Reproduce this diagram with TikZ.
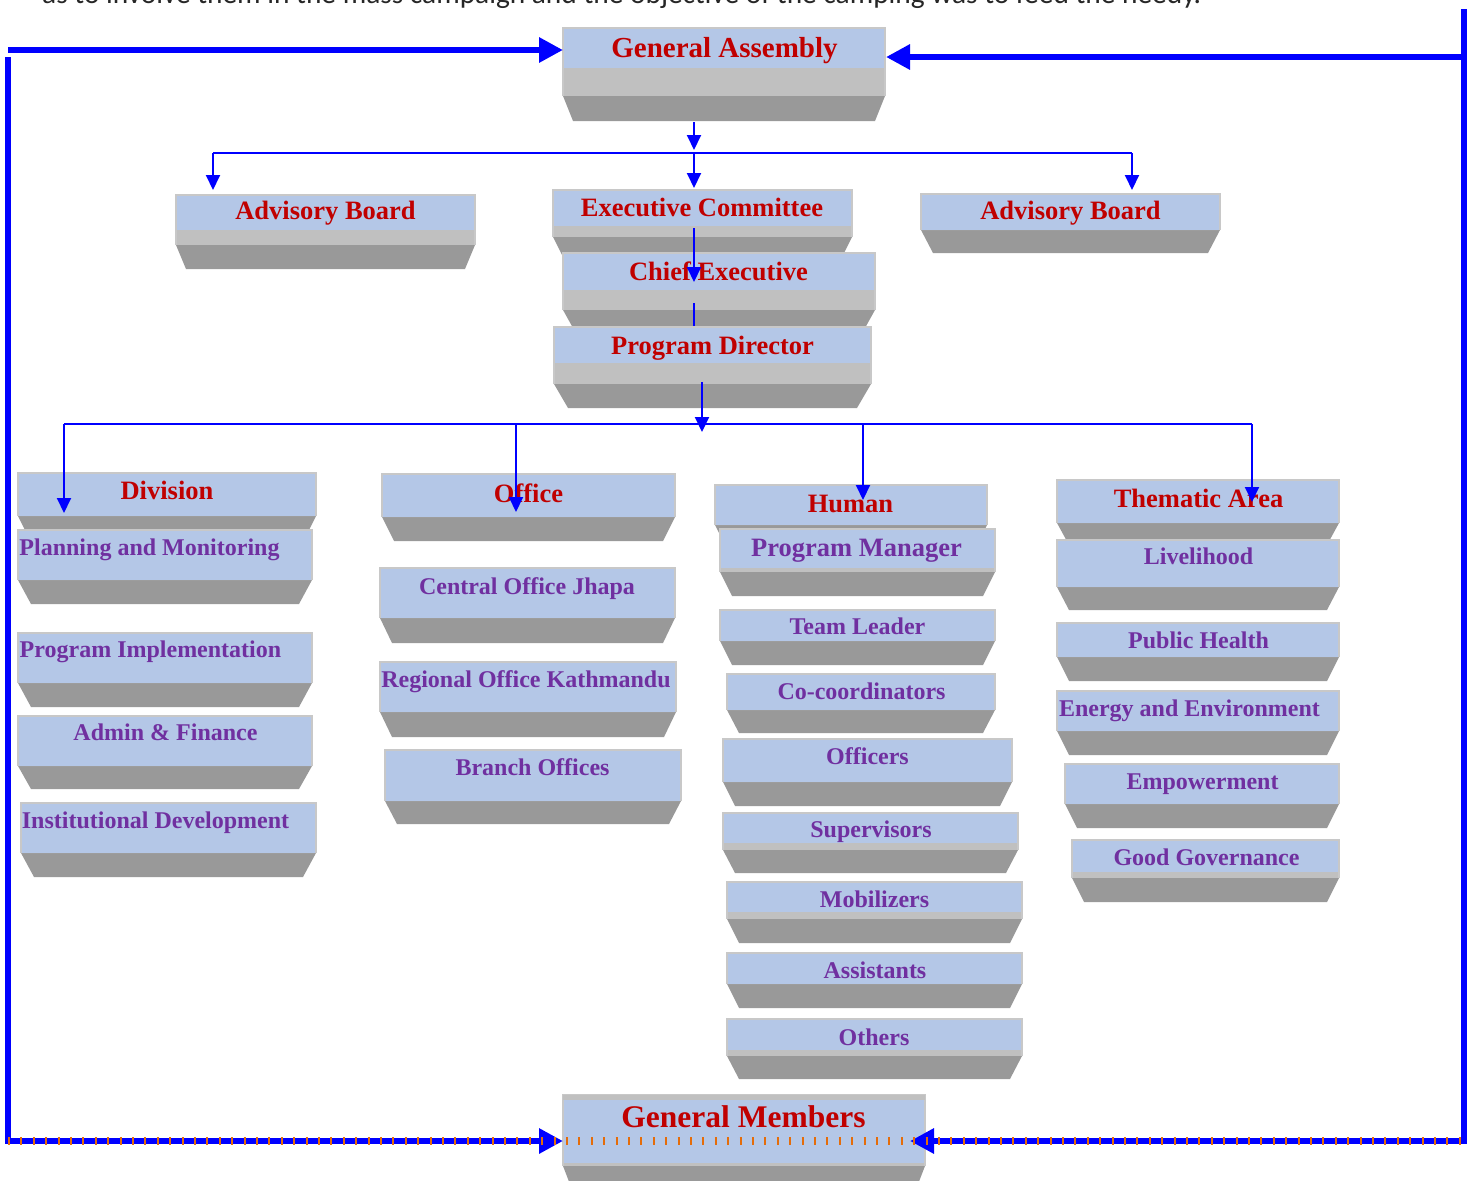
\documentclass[tikz,border=0pt]{standalone}
\usepackage{fontspec}
\setmainfont{Liberation Serif}
\newfontfamily\bodyfont{Carlito}
\usetikzlibrary{arrows.meta,calc}
\definecolor{faceb}{HTML}{B4C7E7}
\definecolor{bandg}{HTML}{C0C0C0}
\definecolor{darkg}{HTML}{999999}
\definecolor{edgeg}{HTML}{C8C8C8}
\definecolor{redt}{HTML}{C00000}
\definecolor{purt}{HTML}{7030A0}
\definecolor{lineb}{HTML}{0000FF}
\definecolor{dashor}{HTML}{E46C0A}
% #1 name, #2 x1, #3 x2, #4 top, #5 face bottom, #6 band bottom, #7 bottom, #8 inset
\newcommand\obox[8]{%
 \fill[darkg] (#2,#6) -- (#3,#6) -- ({#3-#8},#7) -- ({#2+#8},#7) -- cycle;
 \fill[bandg] (#2,#5) rectangle (#3,#6);
 \fill[faceb] (#2,#4) rectangle (#3,#5);
 \draw[edgeg, line width=1.5pt] (#2,#6) -- (#2,#4) -- (#3,#4) -- (#3,#6);
 \coordinate (#1) at ({(#2+#3)/2},#4);
}
\tikzset{
 redlab/.style={text=redt, font=\bfseries\fontsize{26.5}{30}\selectfont, inner sep=0pt, anchor=base},
 purlab/.style={text=purt, font=\bfseries\fontsize{24}{28}\selectfont, inner sep=0pt, anchor=base},
 conn/.style={draw=lineb, line width=2pt, -{Triangle[length=15pt,width=14pt]}},
 connplain/.style={draw=lineb, line width=2pt},
 framearrow/.style={draw=lineb, line width=6pt, -{Triangle[length=24pt,width=24pt]}},
}
\begin{document}
\begin{tikzpicture}[x=1pt,y=-1pt]
\clip (0,0) rectangle (1476,1181);
\fill[white] (0,0) rectangle (1476,1181);

\node[anchor=base west, inner sep=0pt, font=\bodyfont\fontsize{29.4}{32}\selectfont, text=black!85] (toptext) at (42,3) {as to involve them in the mass campaign and the objective of the camping was to feed the needy.};

% boxes
\obox{ga}{563}{885}{28}{68}{96}{121}{10}
\obox{advl}{176}{475}{195}{230}{245}{269}{10}
\obox{exec}{553}{852}{190}{226}{237}{261}{12}
\obox{advr}{921}{1220}{194}{230}{230}{253}{12}
\obox{chief}{563}{875}{253}{290}{310}{328}{10}
\obox{pd}{554}{871}{327}{363}{384}{408}{14}
\obox{div}{18}{316}{473}{516}{516}{540}{12}
\obox{plan}{18}{312}{530}{580}{580}{604}{13}
\obox{impl}{18}{312}{633}{683}{683}{707}{13}
\obox{admin}{18}{312}{716}{766}{766}{789}{13}
\obox{inst}{21}{316}{803}{853}{853}{877}{13}
\obox{off}{382}{675}{474}{517}{517}{541}{12}
\obox{central}{380}{675}{568}{618}{618}{643}{12}
\obox{regional}{380}{676}{662}{712}{712}{737}{12}
\obox{branch}{385}{681}{750}{801}{801}{824}{12}
\obox{hum}{715}{987}{485}{525}{525}{545}{10}
\obox{pm}{720}{995}{529}{568}{572}{596}{12}
\obox{team}{720}{995}{610}{641}{641}{665}{12}
\obox{coco}{727}{995}{674}{710}{710}{733}{12}
\obox{officers}{723}{1012}{739}{782}{782}{806}{12}
\obox{sup}{723}{1018}{813}{843}{850}{873}{12}
\obox{mob}{727}{1022}{882}{912}{919}{943}{12}
\obox{assist}{727}{1022}{953}{984}{984}{1008}{12}
\obox{others}{727}{1022}{1019}{1050}{1056}{1079}{12}
\obox{them}{1057}{1339}{480}{523}{523}{545}{12}
\obox{live}{1057}{1339}{540}{587}{587}{610}{12}
\obox{health}{1057}{1339}{623}{657}{657}{681}{12}
\obox{energy}{1057}{1339}{691}{731}{731}{755}{12}
\obox{empow}{1065}{1339}{764}{804}{804}{828}{12}
\obox{good}{1072}{1339}{840}{872}{878}{902}{12}
\obox{gm}{563}{925}{1095}{1163}{1166}{1192}{10}
\fill[bandg] (563,1095) rectangle (925,1100);

% labels
\node[redlab, font=\bfseries\fontsize{29}{32}\selectfont] (gaT) at (724.5,57) {General Assembly};
\node[redlab] (advlT) at (325.5,219) {Advisory Board};
\node[redlab] (advrT) at (1070.5,219) {Advisory Board};
\node[redlab] (execT) at (702,216) {Executive Committee};
\node[redlab] (chiefT) at (718.5,280) {Chief Executive};
\node[redlab] (pdT) at (712.5,354) {Program Director};
\node[redlab] (divT) at (167,499) {Division};
\node[redlab] (offT) at (528.5,502) {Office};
\node[redlab] (humT) at (850.5,512) {Human};
\node[redlab] (themT) at (1198.5,507) {Thematic Area};
\node[redlab, font=\bfseries\fontsize{31.5}{34}\selectfont] (gmT) at (743.5,1127) {General Members};

\node[purlab] (planT) at (149.5,555) {Planning and Monitoring};
\node[purlab] (implT) at (150.5,657) {Program Implementation};
\node[purlab] (adminT) at (165.5,740) {Admin \& Finance};
\node[purlab] (instT) at (155.5,828) {Institutional Development};
\node[purlab] (centralT) at (527,594) {Central Office Jhapa};
\node[purlab] (regionalT) at (526,687) {Regional Office Kathmandu};
\node[purlab] (branchT) at (532.5,775) {Branch Offices};
\node[purlab, font=\bfseries\fontsize{26.5}{30}\selectfont] (pmT) at (856.5,556) {Program Manager};
\node[purlab] (teamT) at (857.5,634) {Team Leader};
\node[purlab] (cocoT) at (861.5,699) {Co-coordinators};
\node[purlab] (officersT) at (867.5,764) {Officers};
\node[purlab] (supT) at (871,837) {Supervisors};
\node[purlab] (mobT) at (874.5,907) {Mobilizers};
\node[purlab] (assistT) at (875,978) {Assistants};
\node[purlab] (othersT) at (874,1045) {Others};
\node[purlab] (liveT) at (1198.5,564) {Livelihood};
\node[purlab] (healthT) at (1198.5,648) {Public Health};
\node[purlab] (energyT) at (1189.5,716) {Energy and Environment};
\node[purlab] (empowT) at (1202.5,789) {Empowerment};
\node[purlab] (goodT) at (1206.5,865) {Good Governance};

% connector points
\coordinate (gaOut) at (694,122);
\coordinate (gaTip) at (694,150);
\coordinate (brL) at (213,153);
\coordinate (brM) at (694,153);
\coordinate (brR) at (1132,153);
\coordinate (advlIn) at (213,190);
\coordinate (execIn) at (694,188);
\coordinate (advrIn) at (1132,190);
\coordinate (execOut) at (694,228);
\coordinate (chiefIn) at (694,282);
\coordinate (chiefOut) at (694,303);
\coordinate (pdIn) at (694,326);
\coordinate (pdOut) at (702,382);
\coordinate (pdTip) at (702,432);
\coordinate (b2L) at (64,424);
\coordinate (b2O) at (516,424);
\coordinate (b2H) at (863,424);
\coordinate (b2R) at (1252,424);
\coordinate (divIn) at (64,513);
\coordinate (offIn) at (516,512);
\coordinate (humIn) at (863,500);
\coordinate (themIn) at (1252,502);

\draw[conn] (gaOut) -- (gaTip);
\draw[connplain] (brL) -- (brR);
\draw[conn] (brL) -- (advlIn);
\draw[conn] (brM) -- (execIn);
\draw[conn] (brR) -- (advrIn);
\draw[conn] (execOut) -- (chiefIn);
\draw[connplain] (chiefOut) -- (pdIn);
\draw[conn] (pdOut) -- (pdTip);
\draw[connplain] (b2L) -- (b2R);
\draw[conn] (b2L) -- (divIn);
\draw[conn] (b2O) -- (offIn);
\draw[conn] (b2H) -- (humIn);
\draw[conn] (b2R) -- (themIn);

% outer frame
\coordinate (tlS) at (8,50);
\coordinate (gaLin) at (563,50);
\coordinate (trS) at (1464,57);
\coordinate (gaRin) at (886,57);
\coordinate (lvS) at (8,57);
\coordinate (blC) at (8,1141);
\coordinate (gmLin) at (563,1141);
\coordinate (rvS) at (1464,9);
\coordinate (brC) at (1464,1141);
\coordinate (gmRin) at (910,1141);
\draw[framearrow] (tlS) -- (gaLin);
\draw[framearrow] (trS) -- (gaRin);
\draw[framearrow] (lvS) -- (blC) -- (gmLin);
\draw[framearrow] (rvS) -- (brC) -- (gmRin);
\draw[dashor, line width=8pt, dash pattern=on 2pt off 10.4pt] (blC) -- (brC);
\end{tikzpicture}
\end{document}
